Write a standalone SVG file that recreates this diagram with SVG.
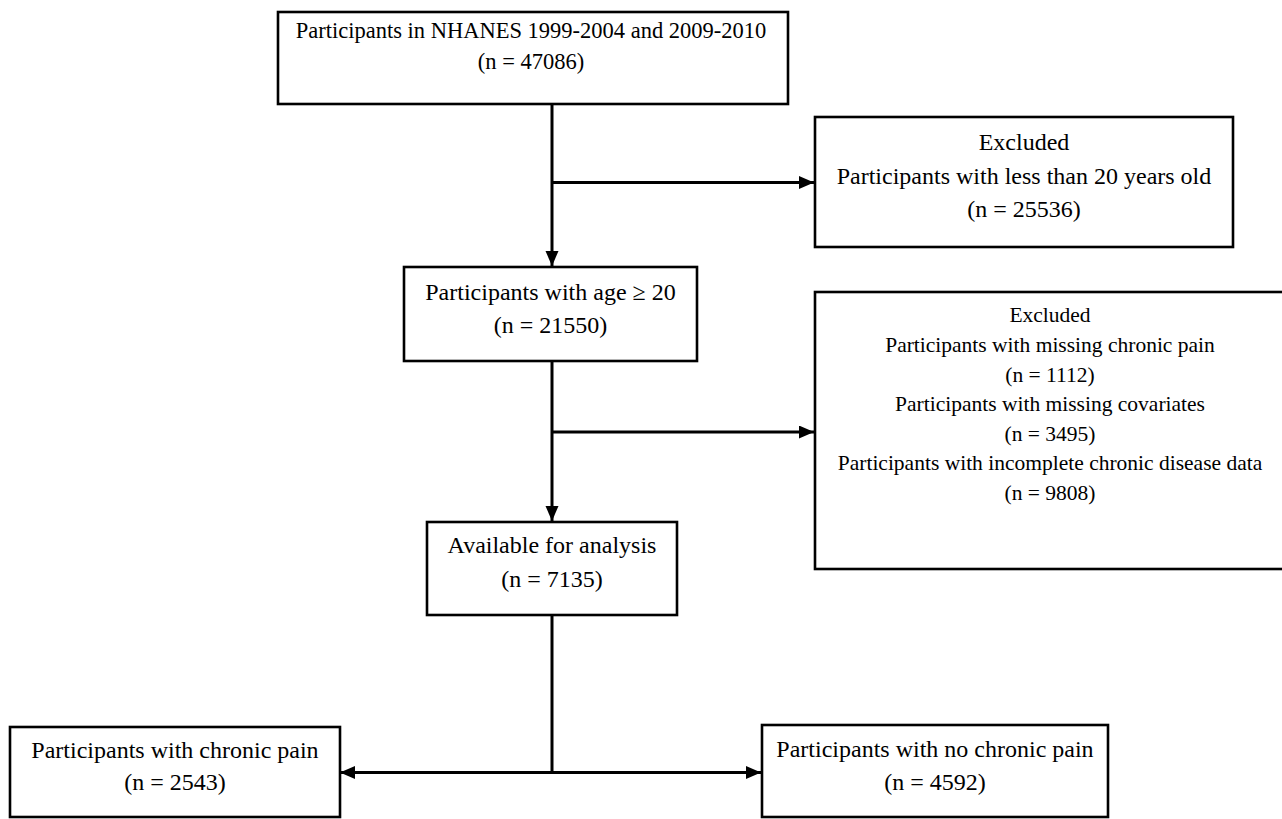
<svg xmlns="http://www.w3.org/2000/svg" width="1282" height="819" viewBox="0 0 1282 819">
<defs>
<style>
.box{fill:#fff;stroke:#000;stroke-width:2.6}
.ln{fill:none;stroke:#000;stroke-width:3}
text{font-family:"Liberation Serif","Times New Roman",serif;fill:#000;text-anchor:middle}
.t24{font-size:24px}
.t22{font-size:22.5px}
.t21{font-size:21.5px}
</style>
<marker id="ah" markerUnits="userSpaceOnUse" markerWidth="16" markerHeight="14" refX="15" refY="6.5" orient="auto">
<path d="M0,0 L15,6.5 L0,13 z" fill="#000"/>
</marker>
</defs>
<rect width="1282" height="819" fill="#fff"/>
<g id="connectors">
<line class="ln" x1="552" y1="104" x2="552" y2="266" marker-end="url(#ah)"/>
<line class="ln" x1="552" y1="182.5" x2="814" y2="182.5" marker-end="url(#ah)"/>
<line class="ln" x1="552" y1="361" x2="552" y2="521" marker-end="url(#ah)"/>
<line class="ln" x1="552" y1="432" x2="814" y2="432" marker-end="url(#ah)"/>
<line class="ln" x1="552" y1="615" x2="552" y2="772.5"/>
<line class="ln" x1="552" y1="772.5" x2="340" y2="772.5" marker-end="url(#ah)"/>
<line class="ln" x1="552" y1="772.5" x2="761" y2="772.5" marker-end="url(#ah)"/>
</g>
<g id="n1">
<rect class="box" x="278" y="12" width="510" height="92"/>
<text class="t22" x="531" y="38">Participants in NHANES 1999-2004 and 2009-2010</text>
<text class="t22" x="531" y="69">(n = 47086)</text>
</g>
<g id="n2">
<rect class="box" x="815" y="117" width="418" height="130"/>
<text class="t24" x="1024" y="150">Excluded</text>
<text class="t24" x="1024" y="184">Participants with less than 20 years old</text>
<text class="t24" x="1024" y="217">(n = 25536)</text>
</g>
<g id="n3">
<rect class="box" x="404" y="267" width="293" height="94"/>
<text class="t24" x="550.5" y="300">Participants with age ≥ 20</text>
<text class="t24" x="550.5" y="333">(n = 21550)</text>
</g>
<g id="n4">
<rect class="box" x="815" y="292" width="470" height="277"/>
<text class="t21" x="1050" y="322">Excluded</text>
<text class="t21" x="1050" y="352">Participants with missing chronic pain</text>
<text class="t21" x="1050" y="382">(n = 1112)</text>
<text class="t21" x="1050" y="411">Participants with missing covariates</text>
<text class="t21" x="1050" y="441">(n = 3495)</text>
<text class="t21" x="1050" y="470">Participants with incomplete chronic disease data</text>
<text class="t21" x="1050" y="500">(n = 9808)</text>
</g>
<g id="n5">
<rect class="box" x="427" y="522" width="250" height="93"/>
<text class="t24" x="552" y="553">Available for analysis</text>
<text class="t24" x="552" y="587">(n = 7135)</text>
</g>
<g id="n6">
<rect class="box" x="10" y="727" width="330" height="90"/>
<text class="t24" x="175" y="758">Participants with chronic pain</text>
<text class="t24" x="175" y="790">(n = 2543)</text>
</g>
<g id="n7">
<rect class="box" x="762" y="725" width="346" height="92"/>
<text class="t24" x="935" y="757">Participants with no chronic pain</text>
<text class="t24" x="935" y="790">(n = 4592)</text>
</g>
</svg>
